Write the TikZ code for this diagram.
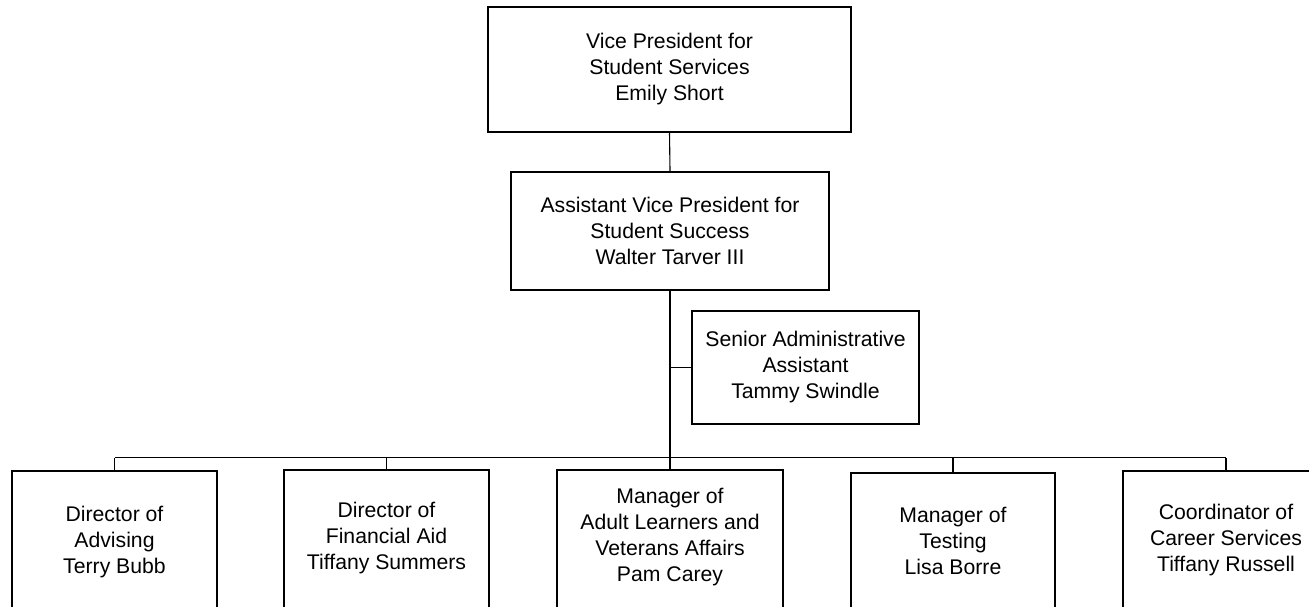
\documentclass[tikz,border=0pt]{standalone}
\usepackage{fontspec}
\setmainfont{Liberation Sans}
\begin{document}
\begin{tikzpicture}[x=0.5pt,y=-0.5pt,
  box/.style={draw=black, line width=0.9pt, fill=white, inner sep=0pt, align=center,
    font=\fontsize{10.6}{13}\selectfont},
  lbl/.style={inner sep=0pt, align=center, font=\fontsize{10.6}{13}\selectfont},
  lowbox/.style={draw=black, line width=0.9pt, fill=white, inner sep=0pt,
    minimum height=100pt, anchor=north},
  thin/.style={line width=0.55pt, black},
  thick/.style={line width=0.9pt, black}]
\useasboundingbox (0,0) rectangle (1309,606);
\clip (0,0) rectangle (1309,606);
\fill[white] (0,0) rectangle (1309,606);
\coordinate (bus) at (670,457.5);
% upper boxes
\node[box, minimum width=181.5pt, minimum height=62.5pt] (top) at (669.5,69.5)
  {Vice President for\\Student Services\\Emily Short};
\node[box, minimum width=159pt, minimum height=59pt] (mid) at (670,231)
  {Assistant Vice President for\\Student Success\\Walter Tarver III};
\node[box, minimum width=113.5pt, minimum height=56.5pt] (sa) at (805.5,367.5)
  {Senior Administrative\\Assistant\\Tammy Swindle};
% lower boxes (run past the bottom edge)
\node[lowbox, minimum width=102.5pt] (b1) at (114.5,470) {};
\node[lowbox, minimum width=102.5pt] (b2) at (386.5,469) {};
\node[lowbox, minimum width=113pt]   (b3) at (670,469) {};
\node[lowbox, minimum width=102pt]   (b4) at (953,472) {};
\node[lowbox, minimum width=103pt]   (b5) at (1226,470) {};
\node[lbl] (t1) at (114.5,542) {Director of\\Advising\\Terry Bubb};
\node[lbl] (t2) at (386.5,538) {Director of\\Financial Aid\\Tiffany Summers};
\node[lbl] (t3) at (670,537) {Manager of\\Adult Learners and\\Veterans Affairs\\Pam Carey};
\node[lbl] (t4) at (953,540.5) {Manager of\\Testing\\Lisa Borre};
\node[lbl] (t5) at (1226,540) {Coordinator of\\Career Services\\Tiffany Russell};
% lines
\draw[thin] (top.south) -- (mid.north);
\draw[thick] (mid.south) -- (mid.south |- bus);
\draw[thin] (mid.south |- sa.west) -- (sa.west);
\draw[line width=0.75pt] (b1.north |- bus) -- (b5.north |- bus);
\draw[thin] (b1.north) -- (b1.north |- bus);
\draw[thin] (b2.north) -- (b2.north |- bus);
\draw[thin] (b3.north) -- (b3.north |- bus);
\draw[thin] (b4.north) -- (b4.north |- bus);
\draw[thin] (b5.north) -- (b5.north |- bus);
\end{tikzpicture}
\end{document}
